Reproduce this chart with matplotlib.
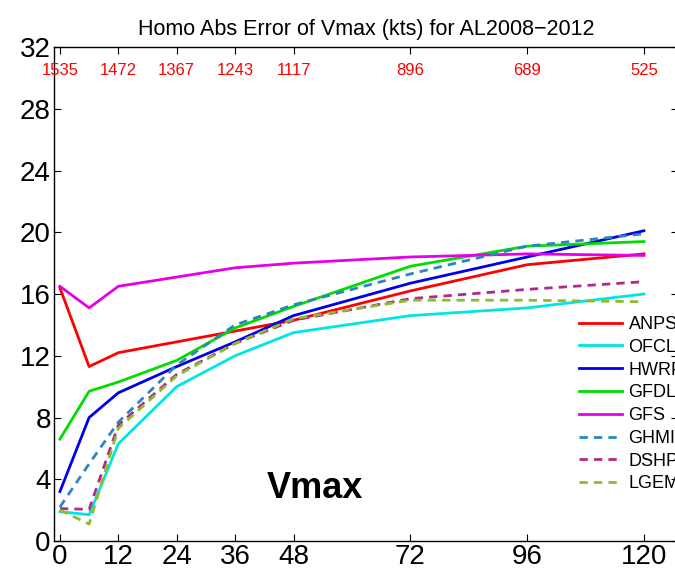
import matplotlib
matplotlib.use('Agg')
import matplotlib.pyplot as plt

plt.rcParams['font.family'] = ['Liberation Sans Narrow', 'Liberation Sans', 'DejaVu Sans']

hours = [0, 6, 12, 24, 36, 48, 72, 96, 120]
tick_hours = [0, 12, 24, 36, 48, 72, 96, 120]
counts = ['1535', '1472', '1367', '1243', '1117', '896', '689', '525']

anps = [16.4, 11.3, 12.2, 12.9, 13.6, 14.3, 16.2, 17.9, 18.6]
ofcl = [1.9, 1.7, 6.3, 10.0, 12.0, 13.5, 14.6, 15.1, 16.0]
hwrf = [3.2, 8.0, 9.6, 11.3, 12.9, 14.6, 16.7, 18.4, 20.1]
gfdl = [6.6, 9.7, 10.3, 11.7, 13.8, 15.2, 17.8, 19.1, 19.4]
gfs = [16.5, 15.1, 16.5, 17.1, 17.7, 18.0, 18.4, 18.6, 18.5]
ghmi = [2.2, 5.0, 7.7, 11.4, 14.0, 15.3, 17.3, 19.1, 19.9]
dshp = [2.1, 2.05, 7.5, 10.8, 12.8, 14.3, 15.7, 16.3, 16.8]
lgem = [2.0, 1.1, 7.3, 10.7, 12.8, 14.4, 15.6, 15.6, 15.5]

series = [
    ('ANPS', anps, '#ff0000', '-'),
    ('OFCL', ofcl, '#00e5e5', '-'),
    ('HWRF', hwrf, '#0000ee', '-'),
    ('GFDL', gfdl, '#00dd00', '-'),
    ('GFS', gfs, '#e600e6', '-'),
    ('GHMI', ghmi, '#2a86c0', '--'),
    ('DSHP', dshp, '#b4288a', '--'),
    ('LGEM', lgem, '#8cbe28', '--'),
]

fig = plt.figure(figsize=(6.75, 5.74), dpi=100)
# right spine sits just past the image edge, like the reference
ax = fig.add_axes([0.0794, 0.0575, 0.925, 0.8605])

for name, vals, col, ls in series:
    ax.plot(hours, vals, color=col, linestyle=ls, linewidth=2.0, label=name,
            dashes=(3, 2.2) if ls == '--' else (None, None))

for h, c in zip(tick_hours, counts):
    ax.text(h, 30.5, c, color='red', fontsize=12, ha='center', va='center')

ax.text(52.5, 3.4, 'Vmax', fontsize=26, fontweight='bold', family='Liberation Sans',
        ha='center', va='center')

ax.set_xlim(-1.3, 127)
ax.set_ylim(0, 32)
ax.set_xticks(tick_hours)
ax.set_yticks(range(0, 33, 4))
ax.tick_params(direction='in', top=True, right=True, labelsize=20, length=5, pad=2)
for s in ax.spines.values():
    s.set_linewidth(1.0)

ax.set_title('Homo Abs Error of Vmax (kts) for AL2008\u22122012', fontsize=15.5, pad=9,
             family='Liberation Sans')

leg = ax.legend(loc='upper left', bbox_to_anchor=(0.847, 0.462), bbox_transform=fig.transFigure,
                frameon=False, prop={'family': 'Liberation Sans', 'size': 13},
                handlelength=2.4, labelspacing=0.32, handletextpad=0.35, borderaxespad=0)

fig.savefig('out.png', dpi=100)
